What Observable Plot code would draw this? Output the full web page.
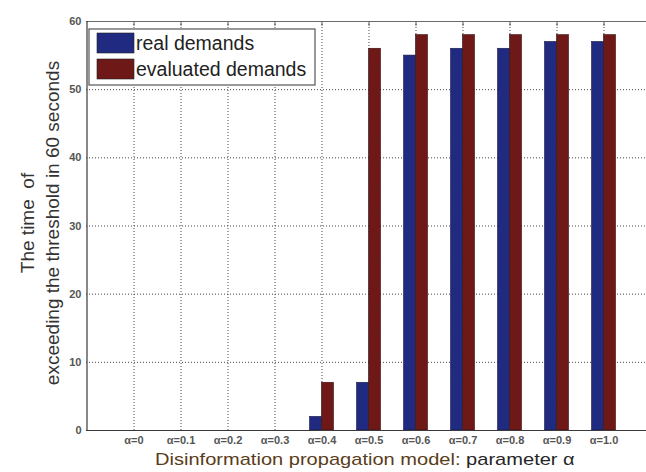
<!DOCTYPE html>
<html>
<head>
<meta charset="utf-8">
<script src="https://cdn.jsdelivr.net/npm/d3@7"></script>
<script src="https://cdn.jsdelivr.net/npm/@observablehq/plot@0.6"></script>
<style>
  body { margin: 0; background: #fff; font-family: "Liberation Sans", Arial, sans-serif; }
  #wrap { position: relative; width: 646px; height: 472px; overflow: hidden; }
  #xlabel { position: absolute; left: 155px; top: 450px; font-size: 17px; white-space: nowrap; line-height: 20px;
            transform: scaleX(1.18); transform-origin: 0 0; }
  #xlabel .a { color: #5a3d1a; }
  #xlabel .b { color: #262626; }
</style>
</head>
<body>
<div id="wrap">
  <div id="chart"></div>
  <div id="xlabel"></div>
</div>
<script>
// Disinformation propagation model: time over threshold per alpha
const categories = ["α=0", "α=0.1", "α=0.2", "α=0.3", "α=0.4", "α=0.5", "α=0.6", "α=0.7", "α=0.8", "α=0.9", "α=1.0"];
const seriesNames = ["real demands", "evaluated demands"];
const realDemands = [0, 0, 0, 0, 2, 7, 55, 56, 56, 57, 57];
const evaluatedDemands = [0, 0, 0, 0, 7, 56, 58, 58, 58, 58, 58];
const yTicks = [0, 10, 20, 30, 40, 50, 60];
const gridValues = [10, 20, 30, 40, 50];
const yLabelLines = ["The time\u00a0\u00a0of", "exceeding the threshold in 60 seconds"];
const xLabelParts = ["Disinformation propagation model: ", "parameter α"];
const seriesColors = ["#1f2a80", "#6e1818"];

const rows = categories.flatMap((c, i) => [
  {category: c, series: seriesNames[0], value: realDemands[i]},
  {category: c, series: seriesNames[1], value: evaluatedDemands[i]}
]);
const realRows = rows.filter(d => d.series === seriesNames[0] && d.value > 0);
const evalRows = rows.filter(d => d.series === seriesNames[1] && d.value > 0);

const grid = {stroke: "#333", strokeDasharray: "1,2", strokeWidth: 1, strokeOpacity: 0.9};

const chart = Plot.plot({
  width: 646,
  height: 450,
  marginTop: 21,
  marginBottom: 20,
  marginLeft: 86,
  marginRight: 0,
  style: {fontFamily: "Liberation Sans, Arial, sans-serif", background: "#fff"},
  x: {type: "band", domain: categories, range: [86, 650], paddingInner: 0, paddingOuter: 0.5, label: null},
  y: {domain: [0, 60], range: [430, 21], label: null},
  marks: [
    Plot.ruleY(gridValues, {y: d => d, ...grid}),
    Plot.barY(realRows, {x: "category", y: "value", fill: seriesColors[0], stroke: "#1a1a40", strokeWidth: 0.6, insetLeft: 11.5, insetRight: 23.5}),
    Plot.barY(evalRows, {x: "category", y: "value", fill: seriesColors[1], stroke: "#3a0c0c", strokeWidth: 0.6, insetLeft: 23.5, insetRight: 11.5}),
    Plot.ruleX(categories, {x: d => d, ...grid}),
    Plot.ruleX(categories, {x: d => d, y1: 60, y2: 59.3, stroke: "#555", strokeWidth: 1}),
    Plot.ruleY([60], {stroke: "#6b6b6b", strokeWidth: 1.2}),
    Plot.ruleY([0], {stroke: "#3a3a3a", strokeWidth: 1.2}),
    Plot.ruleX([categories[0]], {x: d => d, dx: -47, stroke: "#3a3a3a", strokeWidth: 1.2}),
    Plot.axisY({ticks: yTicks, tickSize: 0, tickPadding: 5, fontSize: 11, fontWeight: "bold", fill: "#555", label: null}),
    Plot.axisX({tickSize: 0, tickPadding: 6, fontSize: 11, fontWeight: "bold", fill: "#555", label: null}),
    Plot.text([yLabelLines.join("\n")], {frameAnchor: "left", textAnchor: "middle", dx: -48, dy: -3, rotate: -90, fontSize: 19, lineHeight: 1.3, fill: "#333"})
  ]
});
document.getElementById("chart").append(chart);

// Legend box in the upper-left corner of the axes
const svg = d3.select(chart);
const lg = svg.append("g").attr("transform", "translate(89,29)");
lg.append("rect").attr("width", 226).attr("height", 56).attr("fill", "#fff").attr("stroke", "#555").attr("stroke-width", 1.2);
seriesNames.forEach((name, i) => {
  const y = 4 + i * 26;
  lg.append("rect").attr("x", 8).attr("y", y).attr("width", 37).attr("height", 20)
    .attr("fill", seriesColors[i]).attr("stroke", "#222").attr("stroke-width", 0.6);
  lg.append("text").attr("x", 47).attr("y", y + 10).attr("dy", "0.35em").attr("text-anchor", "start")
    .attr("font-size", 19.5).attr("fill", "#222").attr("font-family", "Liberation Sans, Arial, sans-serif").text(name);
});

// Axis title below the chart, in two colours
const xl = d3.select("#xlabel");
xl.append("span").attr("class", "a").text(xLabelParts[0]);
xl.append("span").attr("class", "b").text(xLabelParts[1]);
</script>
</body>
</html>
